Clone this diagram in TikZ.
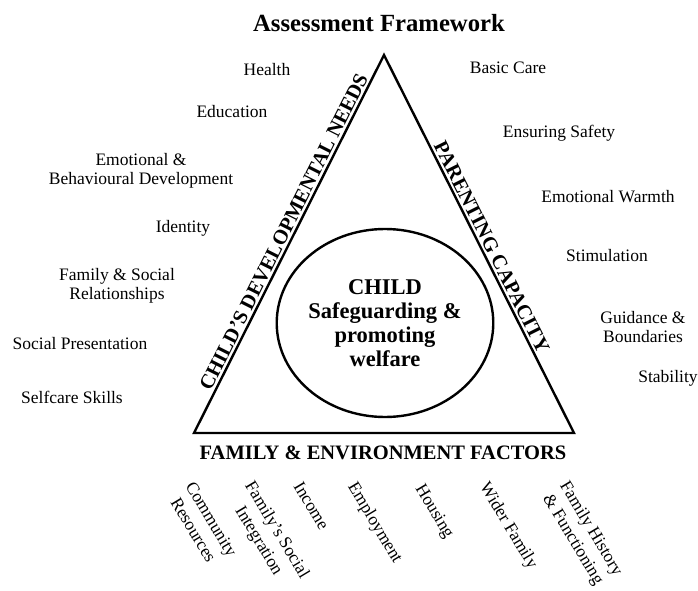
\documentclass[tikz,border=0pt]{standalone}
\usepackage{fontspec}
\setmainfont{Liberation Serif}
\usetikzlibrary{shapes.geometric}

\begin{document}
\begin{tikzpicture}[x=1pt, y=-1pt,
  need/.style={font=\fontsize{17.5}{18.5}\selectfont, align=center, inner sep=0pt},
  factor/.style={font=\fontsize{17.5}{21}\selectfont, align=center, inner sep=0pt, anchor=north west, rotate=-59},
  side/.style={font=\bfseries\fontsize{20.5}{22}\selectfont, inner sep=2pt}]
\useasboundingbox (0,0) rectangle (698,591);
\node[font=\bfseries\fontsize{24.7}{26}\selectfont] (title) at (379,23) {Assessment Framework};
\coordinate (apex) at (384,55);
\coordinate (lft) at (194,433);
\coordinate (rgt) at (574,433);
\draw[line width=2.4pt] (lft) -- node[side, sloped, above, pos=0.52] (needs) {CHILD’S DEVELOPMENTAL NEEDS} (apex)
  -- node[side, sloped, above, pos=0.52] (parenting) {PARENTING CAPACITY} (rgt) -- cycle;
\node[side] (factors) at (383,453) {FAMILY \& ENVIRONMENT FACTORS};
\node[draw, ellipse, line width=2.4pt, minimum width=216pt, minimum height=188pt, inner sep=0pt,
  font=\bfseries\fontsize{22.5}{24}\selectfont, align=center] (child) at (385,323) {CHILD\\Safeguarding \&\\promoting\\welfare};
\node[need] (health) at (267,70) {Health};
\node[need] (education) at (232,112) {Education};
\node[need] (emotional) at (141,171) {Emotional \&\\Behavioural Development};
\node[need] (identity) at (183,228) {Identity};
\node[need] (relations) at (117,286) {Family \& Social\\Relationships};
\node[need] (presentation) at (80,344) {Social Presentation};
\node[need] (selfcare) at (72,397) {Selfcare Skills};
\node[need] (basic) at (508,68) {Basic Care};
\node[need] (safety) at (559,133) {Ensuring Safety};
\node[need] (warmth) at (608,197) {Emotional Warmth};
\node[need] (stimulation) at (607,256) {Stimulation};
\node[need] (guidance) at (643,327) {Guidance \&\\Boundaries};
\node[need] (stability) at (668,378) {Stability};
\node[factor] (community) at (195,480) {Community\\Resources};
\node[factor] (integration) at (255,479) {Family’s Social\\Integration};
\node[factor] (income) at (303,480) {Income};
\node[factor] (employment) at (358,480) {Employment};
\node[factor] (housing) at (425,482) {Housing};
\node[factor] (wider) at (490,480) {Wider Family};
\node[factor] (history) at (570,479) {Family History\\\& Functioning};
\end{tikzpicture}
\end{document}
